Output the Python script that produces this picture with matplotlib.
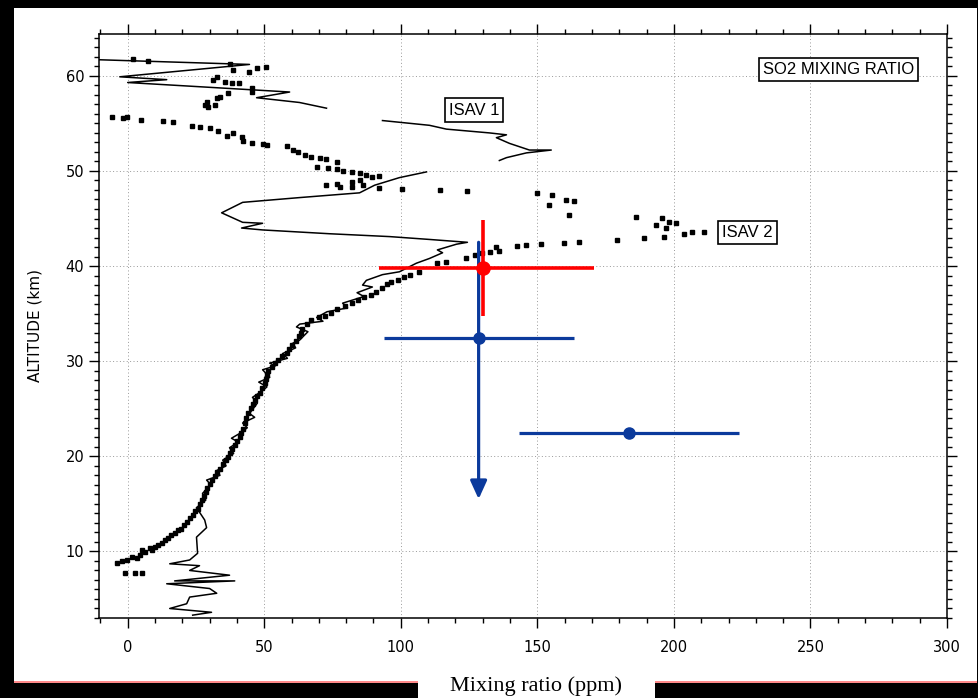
import numpy as np
import matplotlib.pyplot as plt
from matplotlib.patches import Rectangle
from matplotlib.ticker import MultipleLocator

# ISAV 1 SO2 profile (solid line), NaN = gap in the record
isav1_x = [-11.3, 44.6, -2.9, 14.3, 0.0, 59.3, 47.2, 62.9, 72.8, np.nan,
           93.3, 110.5, 116.7, 132.5, 138.7, 135.0, 139.8, 147.1, 155.1, 146.0, 138.7, 136.1, np.nan,
           109.4, 99.5, 90.4, 84.9, 62.9, 42.1, 34.4, 42.1, 49.4, 41.7, 49.4, 73.9, 95.9, 110.5,
           124.4, 120.4, 113.4, 115.3, 110.5, 105.7, 99.5, 93.3, 87.4,
           86.0, 89.6, 84.0, 86.5, 78.7, 80.5, 73.0, 69.2, 71.5, 63.0, 61.8, 66.0, 62.9, 60.5,
           61.5, 56.7, 58.5, 52.0, 54.0, 49.4, 52.0, 48.0, 51.0, 49.4, 45.7, 47.5, 44.6, 46.5,
           42.1, 43.8, 41.0, 38.0, 40.5, 37.3, 38.8, 34.8, 36.0, 32.6, 33.8, 28.9, 30.5, 27.4,
           28.6, 25.2, 28.2, 28.9, 25.2, 25.6, 22.7, 15.4, 26.3, 22.7, 37.3, 17.2, 39.2,
           14.3, 30.0, 32.6, 22.7, 21.6, 15.4, 30.7, 23.8]
isav1_alt = [61.7, 61.2, 59.9, 59.6, 59.3, 58.3, 57.7, 57.2, 56.6, np.nan,
             55.3, 54.8, 54.4, 54.0, 53.8, 53.5, 52.9, 52.2, 52.2, 51.9, 51.4, 51.1, np.nan,
             49.9, 49.3, 48.5, 47.7, 47.2, 46.7, 45.6, 44.6, 44.5, 44.0, 43.8, 43.4, 43.1, 42.8,
             42.5, 42.3, 41.7, 41.4, 40.8, 40.3, 39.4, 39.1, 38.5,
             38.0, 37.8, 37.2, 36.8, 36.1, 35.6, 35.2, 34.6, 34.2, 33.9, 33.6, 33.1, 32.2, 31.9,
             31.4, 30.8, 30.3, 29.8, 29.5, 29.1, 28.3, 27.8, 27.3, 26.9, 26.2, 25.6, 24.5, 24.1,
             23.5, 23.0, 22.4, 21.9, 21.5, 20.9, 20.3, 19.6, 19.0, 18.5, 18.0, 17.5, 17.0, 16.1,
             15.4, 14.6, 13.3, 12.5, 11.5, 9.8, 9.1, 8.7, 8.5, 8.0, 7.5, 6.9, 6.9,
             6.6, 6.1, 5.6, 5.2, 4.5, 4.0, 3.6, 3.3]

# ISAV 2 SO2 profile (dots)
isav2_x = [1.8, 7.3, 37.3, 38.4, 44.6, 47.2, 50.5, 32.6, 31.1, 35.5, 38.1, 40.6, 45.7, 45.7,
           36.6, 33.7, 32.6, 28.9, 28.2, 29.3, 31.8,
           -5.9, -1.8, -0.4, 4.8, 12.8, 16.5, 23.4, 26.3, 30.0, 32.9, 36.2, 38.4, 41.7, 42.1,
           45.7, 49.4, 50.9, 58.2, 60.4, 62.2, 64.8, 67.3, 70.3, 72.8, 76.5, 69.5, 73.2, 76.5,
           78.7, 82.0, 84.9, 87.4, 89.6, 92.2, 92.2, 72.8, 76.5, 77.6, 82.3, 84.9, 86.0, 82.3,
           100.6, 114.2, 124.4, 150.0, 155.5, 160.6, 163.6, 154.4, 161.7, 186.2, 193.6, 195.8,
           198.3, 200.9, 197.2, 196.5, 203.8, 206.7, 211.1, 189.2, 179.3, 165.4, 159.9, 151.5,
           146.0, 142.7, 136.1, 135.0, 132.5, 129.9, 127.0, 123.7, 116.7, 113.1, 106.8,
           103.2, 98.8, 95.1, 91.1, 86.7, 82.0, 76.8, 72.4, 67.3, 64.0, 62.9, 60.0, 58.2, 54.9,
           52.7, 50.9, 50.1, 48.3, 46.5, 45.0, 43.5, 42.1, 41.0, 39.2, 37.3, 35.9, 33.7, 31.8,
           30.0, 28.5, 27.1, 25.6, 23.8, 21.6, 19.4, 17.2, 14.6, 12.4, 9.9, 8.0, 6.2, 4.4, 3.3,
           -0.4, -4.0, -1.1, 2.6, 5.1,
           101.0, 96.5, 93.0, 89.0, 84.5, 79.5, 74.5, 70.0, 65.5, 63.5, 61.5, 59.0, 56.5, 53.8,
           51.5, 50.5, 49.2, 47.4, 45.8, 44.2, 42.8, 41.5, 40.1, 38.2, 36.6, 34.8, 32.7, 30.9,
           29.2, 27.8, 26.3, 24.7, 22.7, 20.5, 18.3, 15.9, 13.5, 11.2, 9.0, 5.3, 1.5, -2.0]
isav2_alt = [61.8, 61.6, 61.2, 60.6, 60.4, 60.8, 60.9, 59.9, 59.6, 59.4, 59.3, 59.2, 58.7, 58.3,
             58.2, 57.8, 57.7, 57.3, 56.9, 56.7, 56.9,
             55.7, 55.6, 55.7, 55.4, 55.3, 55.2, 54.7, 54.6, 54.5, 54.2, 53.7, 54.0, 53.6, 53.1,
             52.9, 52.8, 52.7, 52.6, 52.2, 52.0, 51.7, 51.5, 51.4, 51.3, 50.9, 50.4, 50.3, 50.2,
             50.0, 49.9, 49.8, 49.6, 49.4, 49.5, 48.2, 48.5, 48.6, 48.3, 48.8, 49.1, 48.5, 48.3,
             48.1, 48.0, 47.9, 47.7, 47.5, 46.9, 46.8, 46.4, 45.4, 45.2, 44.3, 45.1,
             44.6, 44.5, 44.0, 43.1, 43.4, 43.6, 43.6, 42.9, 42.7, 42.5, 42.4, 42.3,
             42.2, 42.1, 41.6, 42.0, 41.5, 41.4, 41.2, 40.9, 40.4, 40.3, 39.4,
             39.1, 38.5, 38.1, 37.3, 36.7, 36.1, 35.5, 34.8, 34.3, 33.4, 32.6, 31.7, 30.9, 30.1,
             29.4, 28.5, 27.7, 26.7, 25.9, 25.1, 24.0, 22.9, 22.0, 21.2, 20.3, 19.6, 18.7, 17.9,
             17.1, 16.2, 15.4, 14.5, 13.8, 13.1, 12.4, 11.9, 11.4, 10.9, 10.5, 10.4, 9.9, 9.6, 9.3,
             9.1, 8.8, 7.7, 7.7, 7.7,
             38.8, 38.3, 37.7, 37.0, 36.4, 35.8, 35.1, 34.6, 33.9, 33.0, 32.1, 31.3, 30.5, 29.8,
             29.0, 28.1, 27.2, 26.3, 25.5, 24.6, 23.5, 22.5, 21.6, 20.8, 19.9, 19.2, 18.3, 17.5,
             16.7, 15.8, 15.0, 14.2, 13.5, 12.8, 12.2, 11.7, 11.2, 10.7, 10.2, 10.1, 9.4, 9.0]

# overlaid measurements (mixing ratio ppm, altitude km)
red_x, red_alt = 130.0, 39.8
red_xerr = [[37.8], [40.9]]
red_yerr = 5.0
blue_x = [128.5, 183.7]
blue_alt = [32.4, 22.5]
blue_xerr = [34.8, 40.3]
blue_limit_top, blue_limit_bottom = 42.5, 15.5

labels = {'ISAV 1': (126.8, 56.4), 'ISAV 2': (227.0, 43.5), 'SO2 MIXING RATIO': (260.2, 60.7)}

red = '#ff0000'
blue = '#0b3a9c'
narrow = ['Liberation Sans Narrow', 'Liberation Sans', 'DejaVu Sans']

fig = plt.figure(figsize=(9.79, 6.98), dpi=100, facecolor='black')

# white page behind the scanned figure, red rule and caption box at the bottom
fig.patches.append(Rectangle((14 / 979, 1 - 682 / 698), 963 / 979, 674 / 698,
                             transform=fig.transFigure, fc='white', ec='none', zorder=-3))
fig.patches.append(Rectangle((14 / 979, 1 - 683 / 698), 963 / 979, 1.6 / 698,
                             transform=fig.transFigure, fc='#ff8a8a', ec='none', zorder=-2))
fig.patches.append(Rectangle((418 / 979, 0), 237 / 979, 30 / 698,
                             transform=fig.transFigure, fc='white', ec='none', zorder=-1))

ax = fig.add_axes([99 / 979, 1 - 618 / 698, 848 / 979, 584 / 698])
ax.set_facecolor('none')

ax.plot(isav1_x, isav1_alt, color='black', linewidth=1.1, zorder=3)
ax.plot(isav2_x, isav2_alt, linestyle='none', marker='s', markersize=3.0,
        color='black', zorder=3)

for name, (lx, ly) in labels.items():
    ax.text(lx, ly, name, ha='center', va='center', fontsize=12, family=narrow, zorder=4,
            bbox=dict(boxstyle='square,pad=0.25', fc='white', ec='black', lw=1.2))

# overlays
ax.errorbar(red_x, red_alt, xerr=red_xerr, yerr=red_yerr, fmt='o', color=red,
            markersize=9.5, elinewidth=2.6, capsize=0, zorder=6)
ax.annotate('', xy=(blue_x[0], blue_limit_bottom), xytext=(blue_x[0], blue_limit_top),
            arrowprops=dict(arrowstyle='-|>,head_length=1.1,head_width=0.5', color=blue,
                            lw=2.3, shrinkA=0, shrinkB=0), zorder=5)
ax.errorbar(blue_x, blue_alt, xerr=blue_xerr, fmt='o', color=blue,
            markersize=8, elinewidth=2.3, capsize=0, zorder=5)

ax.set_xlim(-10.5, 300)
ax.set_ylim(3, 64.4)
ax.xaxis.set_major_locator(MultipleLocator(50))
ax.xaxis.set_minor_locator(MultipleLocator(10))
ax.yaxis.set_major_locator(MultipleLocator(10))
ax.yaxis.set_minor_locator(MultipleLocator(1))
ax.grid(True, which='major', color='0.6', linestyle=(0, (1, 2.5)), linewidth=0.7, zorder=1)
ax.set_axisbelow(True)
ax.tick_params(which='both', direction='out', top=True, right=True, width=1.0,
               labeltop=False, labelright=False, labelsize=10.5)
ax.tick_params(which='major', length=7)
ax.tick_params(which='minor', length=3.5)
ax.tick_params(axis='x', which='major', pad=9)
for s in ax.spines.values():
    s.set_linewidth(1.1)

ax.set_ylabel('ALTITUDE (km)', fontsize=11, labelpad=17)
fig.text(536 / 979, 1 - 686 / 698, 'Mixing ratio (ppm)', ha='center', va='center',
         fontsize=16, family='Liberation Serif', zorder=2)

fig.savefig('out.png', dpi=100, facecolor=fig.get_facecolor())
